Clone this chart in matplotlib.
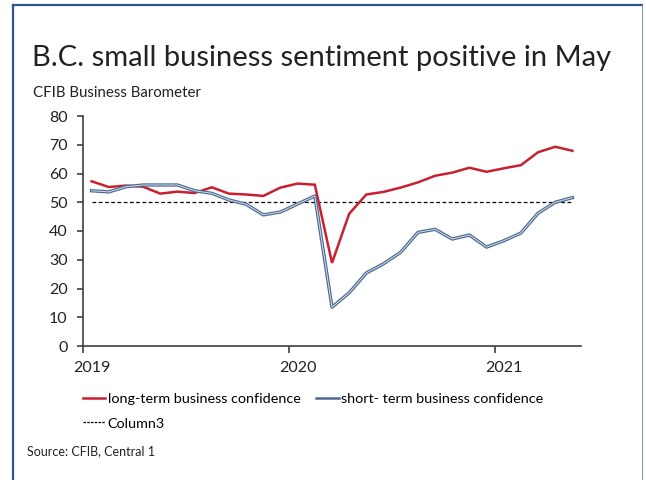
import matplotlib
matplotlib.use("Agg")
import matplotlib.pyplot as plt
from matplotlib.lines import Line2D

plt.rcParams['font.family'] = ['Lato', 'DejaVu Sans']

# Monthly readings, Jan 2019 .. May 2021
months = ["2019-01", "2019-02", "2019-03", "2019-04", "2019-05", "2019-06",
          "2019-07", "2019-08", "2019-09", "2019-10", "2019-11", "2019-12",
          "2020-01", "2020-02", "2020-03", "2020-04", "2020-05", "2020-06",
          "2020-07", "2020-08", "2020-09", "2020-10", "2020-11", "2020-12",
          "2021-01", "2021-02", "2021-03", "2021-04", "2021-05"]
long_term = [57.3, 55.3, 55.8, 55.4, 53.0, 53.7, 53.2, 55.2, 53.0, 52.7,
             52.2, 55.1, 56.5, 56.1, 28.9, 46.0, 52.7, 53.6, 55.1, 56.9,
             59.2, 60.3, 62.0, 60.6, 61.8, 62.9, 67.4, 69.3, 67.9]
short_term = [54.0, 53.6, 55.4, 56.0, 56.0, 56.0, 54.0, 53.1, 50.8, 49.3,
              45.6, 46.6, 49.4, 52.2, 13.5, 18.5, 25.4, 28.6, 32.6, 39.5,
              40.6, 37.2, 38.6, 34.4, 36.6, 39.3, 46.2, 50.0, 51.6]
threshold = [50] * len(months)
year_ticks = [0, 12, 24]
year_labels = ["2019", "2020", "2021"]

W, H = 646, 480
fig = plt.figure(figsize=(W / 100, H / 100), dpi=100)
ax = fig.add_axes([83 / W, 1 - 346 / H, (581 - 83) / W, (346 - 116) / H])

x = [i + 0.5 for i in range(len(months))]
red = '#C8202F'
blue = '#4A6A91'

ax.plot(x, threshold, color='black', lw=0.9, linestyle=(0, (3, 2)))
ax.plot(x, long_term, color=red, lw=1.8, solid_joinstyle='miter')
ax.plot(x, short_term, color=blue, lw=2.4)
ax.plot(x, short_term, color='#D5DEE9', lw=0.7)

ax.set_xlim(0, 29)
ax.set_ylim(0, 80)
ax.set_yticks(range(0, 81, 10))
# tick marks on year boundaries, labels on the January point
ax.set_xticks(year_ticks)
ax.set_xticklabels([])
ax.set_xticks([t + 0.5 for t in year_ticks], minor=True)
ax.set_xticklabels(year_labels, minor=True)
for s in ['top', 'right']:
    ax.spines[s].set_visible(False)
for s in ['left', 'bottom']:
    ax.spines[s].set_color('#404040')
    ax.spines[s].set_linewidth(1.2)
ax.tick_params(axis='both', colors='#404040', labelcolor='#222222',
               labelsize=11.5, length=4, width=1.2)
ax.tick_params(axis='y', pad=7)
ax.tick_params(axis='x', which='major', length=5)
ax.tick_params(axis='x', which='minor', length=0, pad=11, labelsize=11.5,
               labelcolor='#222222')

# legend
handles = [Line2D([], [], color=red, lw=1.8),
           Line2D([], [], color='black', lw=0.9, linestyle=(0, (2, 1))),
           Line2D([], [], color=blue, lw=1.8)]
labels = ["long-term business confidence", "Column3",
          "short- term business confidence"]
fig.legend(handles, labels, loc='upper left', bbox_to_anchor=(83 / W, 1 - 393 / H),
           ncol=2, frameon=False, fontsize=10.4, handlelength=1.55,
           handletextpad=0.15, columnspacing=1.1, labelspacing=0.85,
           borderaxespad=0, borderpad=0)

fig.text(32 / W, 1 - 58 / H, "B.C. small business sentiment positive in May",
         fontsize=21, color='#222222', va='center', ha='left')
fig.text(33 / W, 1 - 93 / H, "CFIB Business Barometer",
         fontsize=10.8, color='#222222', va='center', ha='left')
fig.text(27 / W, 1 - 451 / H, "Source: CFIB, Central 1",
         fontsize=9, color='#222222', va='center', ha='left')

# frame around the slide
fig.add_artist(Line2D([13 / W, 13 / W], [0, 1 - 5 / H], color='#2E5591', lw=1.6))
fig.add_artist(Line2D([13 / W, 642 / W], [1 - 5 / H, 1 - 5 / H], color='#2E5591', lw=1.6))
fig.add_artist(Line2D([642 / W, 642 / W], [0, 1 - 5 / H], color='#8A96B4', lw=0.8))

fig.savefig("out.png", dpi=100)
